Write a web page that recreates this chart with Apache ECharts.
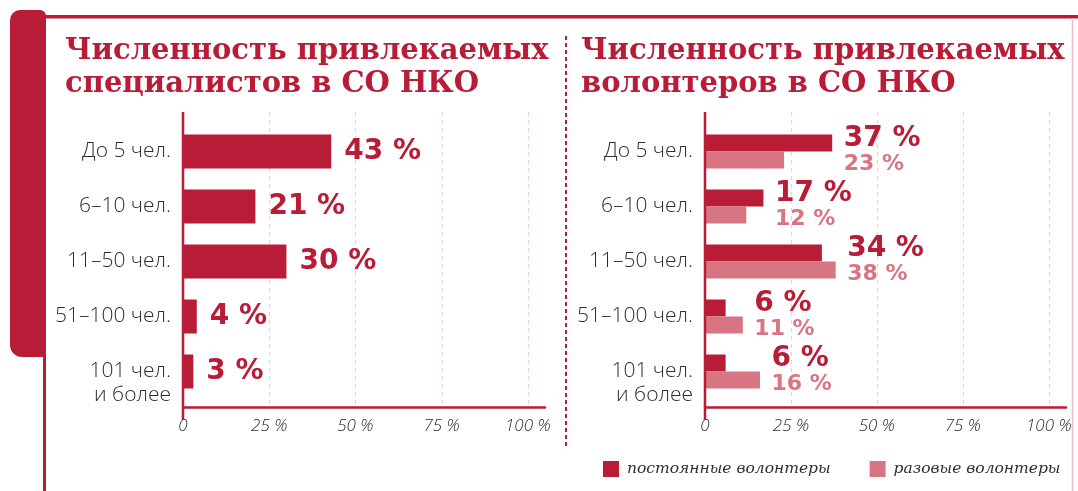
<!DOCTYPE html>
<html>
<head>
<meta charset="utf-8">
<script src="https://cdn.jsdelivr.net/npm/echarts@6/dist/echarts.min.js"></script>
<style>
  html, body { margin: 0; padding: 0; background: #fff; }
  #chart { width: 1078px; height: 491px; }
</style>
</head>
<body>
<div id="chart"></div>
<script>
// категории (общие для обеих панелей)
const categories = ['До 5 чел.', '6–10 чел.', '11–50 чел.', '51–100 чел.', '101 чел.\nи более'];
// специалисты, %
const specialists = [43, 21, 30, 4, 3];
// волонтеры, %
const permanentVolunteers = [37, 17, 34, 6, 6];
const oneTimeVolunteers = [23, 12, 38, 11, 16];
const seriesNames = ['постоянные волонтеры', 'разовые волонтеры'];
const xTicks = [0, 25, 50, 75, 100];

const DARK = '#b91c37';
const LIGHT = '#d87583';
const GRID_PINK = '#f4ccd3';
const TEXT = '#2e2e2e';

const GRID_TOP = 124;
const GRID_H = 275;
const AXIS_OFFSET = 8;

const chart = echarts.init(document.getElementById('chart'));

function xAxisCfg(gridIndex) {
  return {
    gridIndex: gridIndex,
    type: 'value',
    min: 0,
    max: 105,
    interval: 25,
    offset: AXIS_OFFSET,
    axisLine: { show: true, lineStyle: { color: DARK, width: 2.5 } },
    axisTick: { show: false },
    splitLine: { show: false },
    axisLabel: {
      color: TEXT,
      fontSize: 17,
      fontStyle: 'italic',
      fontWeight: 300,
      fontFamily: 'Open Sans',
      margin: 11,
      formatter: v => xTicks.indexOf(v) < 0 ? '' : (v === 0 ? '0' : v + ' %')
    }
  };
}

function yAxisCfg(gridIndex) {
  return {
    gridIndex: gridIndex,
    type: 'category',
    data: categories,
    inverse: true,
    axisLine: { show: false },
    axisTick: { show: false },
    axisLabel: {
      color: TEXT,
      fontSize: 21,
      fontWeight: 300,
      fontFamily: 'Open Sans',
      margin: 12,
      lineHeight: 24,
      // двухстрочная подпись: первая строка — напротив столбца
      formatter: v => v.indexOf('\n') >= 0 ? '\n' + v : v
    }
  };
}

const titleStyle = {
  fontFamily: 'DejaVu Serif',
  fontWeight: 'bold',
  fontSize: 29,
  lineHeight: 33,
  color: DARK
};

const option = {
  backgroundColor: '#fff',
  animation: false,
  title: [
    { text: 'Численность привлекаемых\nспециалистов в СО НКО', left: 65, top: 35, padding: 0, textStyle: titleStyle },
    { text: 'Численность привлекаемых\nволонтеров в СО НКО', left: 581, top: 35, padding: 0, textStyle: titleStyle }
  ],
  legend: {
    data: seriesNames,
    left: 603,
    top: 461,
    width: 470,
    padding: 0,
    icon: 'rect',
    itemWidth: 16,
    itemHeight: 16,
    itemGap: 39,
    textStyle: { fontFamily: 'DejaVu Serif', fontStyle: 'italic', fontSize: 15.5, color: TEXT, padding: [0, 0, 0, 3] }
  },
  grid: [
    { left: 183, top: GRID_TOP, width: 362, height: GRID_H },
    { left: 705, top: GRID_TOP, width: 361, height: GRID_H }
  ],
  xAxis: [xAxisCfg(0), xAxisCfg(1)],
  yAxis: [yAxisCfg(0), yAxisCfg(1)],
  series: [
    {
      type: 'bar',
      xAxisIndex: 0,
      yAxisIndex: 0,
      data: specialists,
      barWidth: 34,
      itemStyle: { color: DARK },
      label: {
        show: true,
        position: 'right',
        distance: 13,
        formatter: '{c} %',
        color: DARK,
        fontSize: 28,
        fontWeight: 'bold',
        fontFamily: 'DejaVu Sans'
      }
    },
    {
      name: seriesNames[0],
      type: 'bar',
      xAxisIndex: 1,
      yAxisIndex: 1,
      data: permanentVolunteers,
      barWidth: 17,
      barGap: '0%',
      itemStyle: { color: DARK }
    },
    {
      name: seriesNames[1],
      type: 'bar',
      xAxisIndex: 1,
      yAxisIndex: 1,
      data: oneTimeVolunteers,
      barWidth: 17,
      barGap: '0%',
      itemStyle: { color: LIGHT }
    },
    {
      // подписи пары столбцов — справа от более длинного
      type: 'scatter',
      xAxisIndex: 1,
      yAxisIndex: 1,
      silent: true,
      symbolSize: 1,
      itemStyle: { color: 'rgba(0,0,0,0)', opacity: 1 },
      data: categories.map((c, i) => [Math.max(permanentVolunteers[i], oneTimeVolunteers[i]), i]),
      label: {
        show: true,
        position: 'right',
        distance: 11,
        opacity: 1,
        formatter: p => '{a|' + permanentVolunteers[p.dataIndex] + ' %}\n{b|' + oneTimeVolunteers[p.dataIndex] + ' %}',
        rich: {
          a: { fontFamily: 'DejaVu Sans', fontWeight: 'bold', fontSize: 28, lineHeight: 25, color: DARK },
          b: { fontFamily: 'DejaVu Sans', fontWeight: 'bold', fontSize: 22, lineHeight: 25, color: LIGHT }
        }
      }
    }
  ]
};

chart.setOption(option);

// сетка, ось Y и оформление
const lineTop = GRID_TOP - 12;
const lineBottom = GRID_TOP + GRID_H + AXIS_OFFSET;
const graphic = [
  { type: 'rect', shape: { x: 10, y: 10, width: 36, height: 347, r: [10, 6, 0, 12] }, style: { fill: DARK } },
  { type: 'rect', shape: { x: 43, y: 340, width: 3, height: 160 }, style: { fill: DARK } },
  { type: 'rect', shape: { x: 40, y: 15, width: 1040, height: 3.5 }, style: { fill: DARK } },
  { type: 'line', shape: { x1: 1072.5, y1: 18, x2: 1072.5, y2: 491 }, style: { stroke: '#ecbcc5', lineWidth: 1.5 } },
  { type: 'line', shape: { x1: 566, y1: 36, x2: 566, y2: 446 }, style: { stroke: DARK, lineWidth: 2, lineDash: [4, 3] } }
];
[0, 1].forEach(function (gi) {
  xTicks.slice(1).forEach(function (t) {
    const x = Math.round(chart.convertToPixel({ xAxisIndex: gi }, t)) + 0.5;
    graphic.push({
      type: 'line', z: 0,
      shape: { x1: x, y1: lineTop, x2: x, y2: lineBottom - 1 },
      style: { stroke: GRID_PINK, lineWidth: 1.2, lineDash: [4, 4] }
    });
  });
  const x0 = chart.convertToPixel({ xAxisIndex: gi }, 0);
  graphic.push({
    type: 'line', z: 5,
    shape: { x1: x0, y1: lineTop, x2: x0, y2: lineBottom + 13 },
    style: { stroke: DARK, lineWidth: 2.5 }
  });
});
chart.setOption({ graphic: graphic });
</script>
</body>
</html>
